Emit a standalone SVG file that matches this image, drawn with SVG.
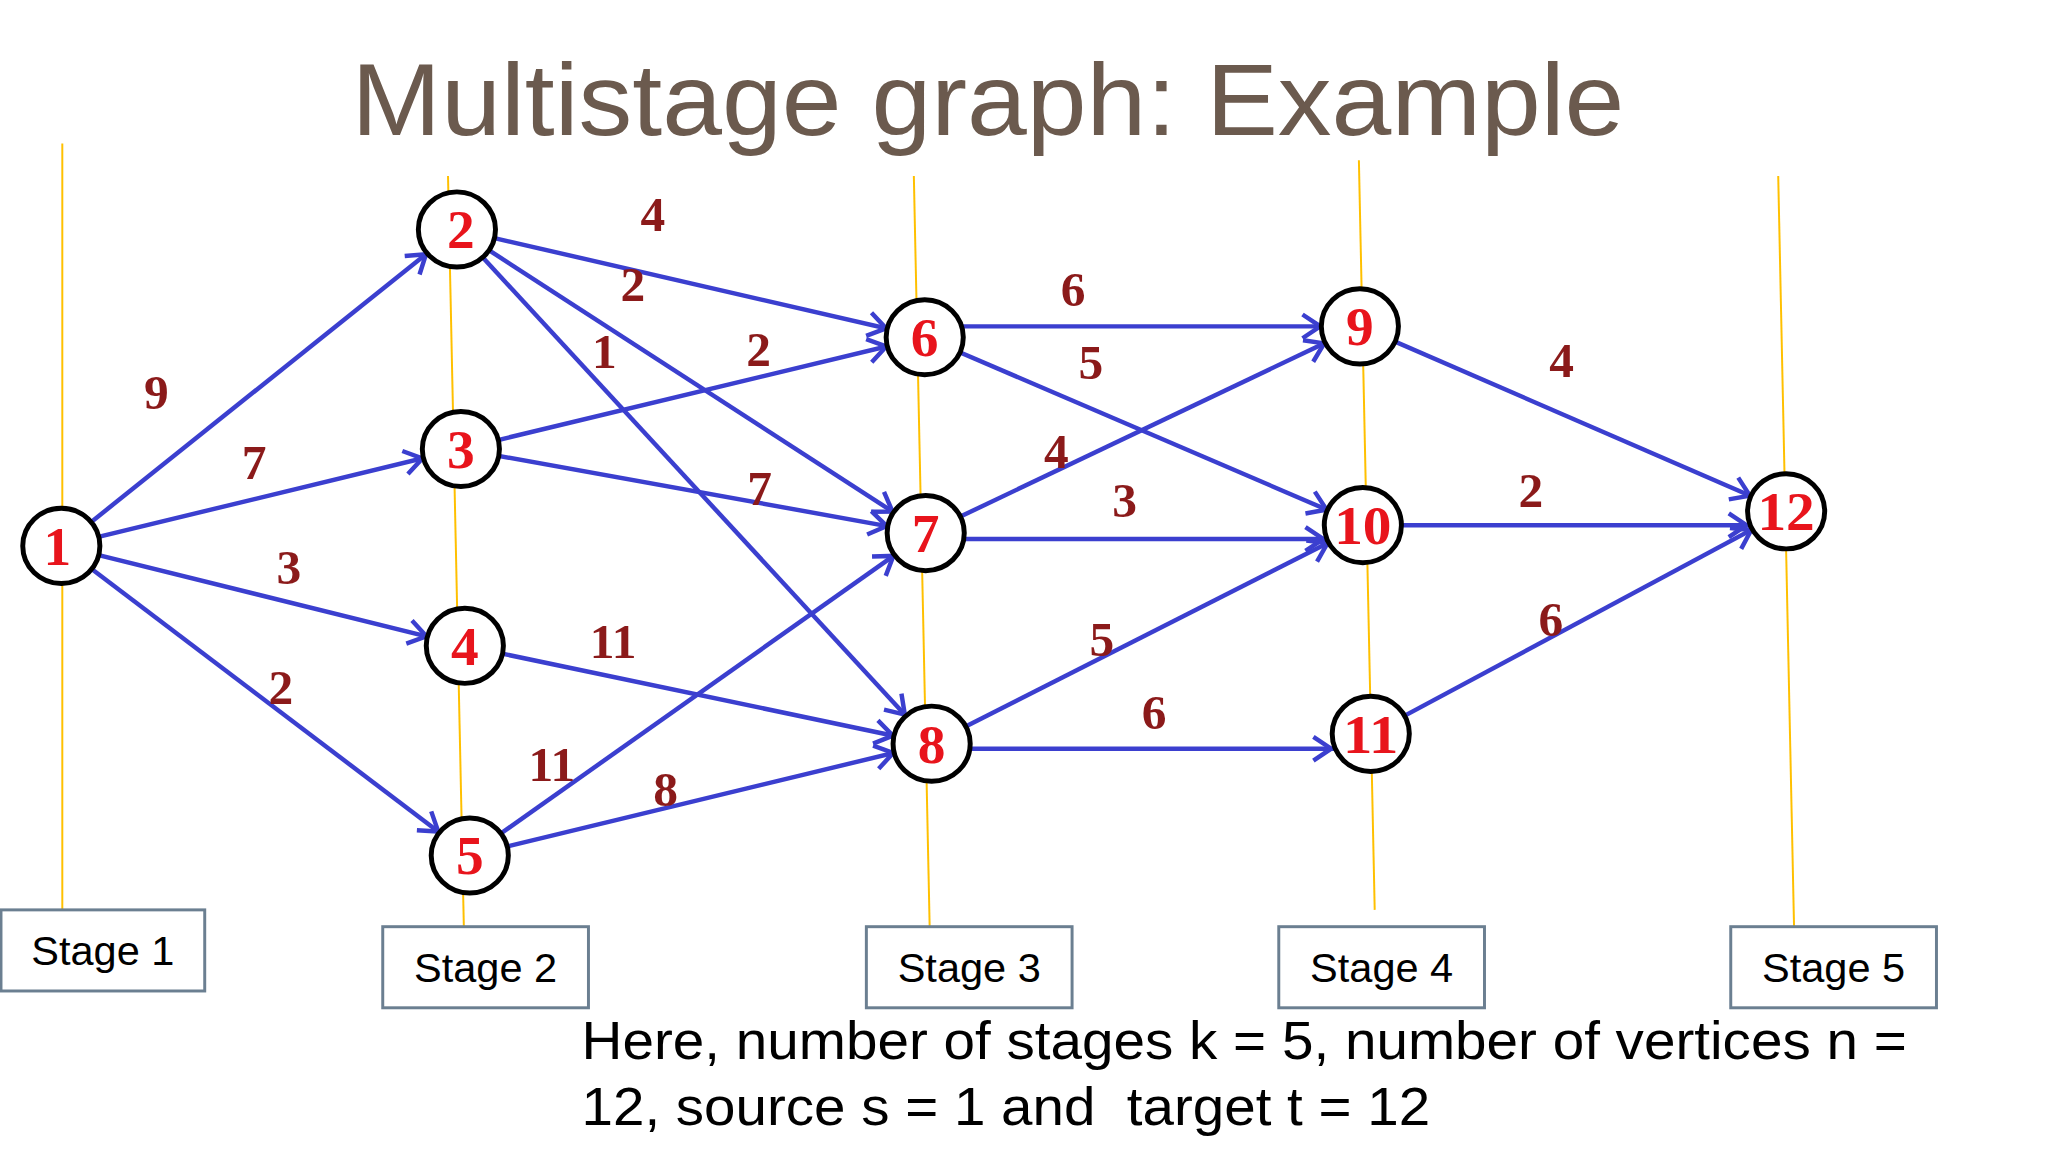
<svg xmlns="http://www.w3.org/2000/svg" width="2048" height="1152" viewBox="0 0 2048 1152">
<defs>
<marker id="ah" markerUnits="userSpaceOnUse" viewBox="0 -14 80 28" markerWidth="80" markerHeight="28" refX="58" refY="0" orient="auto" overflow="visible">
<path d="M0,-12 L18,0 L0,12" fill="none" stroke="#3b3fcf" stroke-width="4.5"/>
</marker>
</defs>
<style>
.stage{stroke:#ffc000;stroke-width:2;fill:none}
.box{fill:#fff;stroke:#6b7f91;stroke-width:3}
.bt{font-family:"Liberation Sans",sans-serif;font-size:42px;fill:#000;text-anchor:middle}
.e{stroke:#3b3fcf;stroke-width:4.5;fill:none;marker-end:url(#ah)}
.n{fill:#fff;stroke:#000;stroke-width:5}
.nt{font-family:"Liberation Serif",serif;font-weight:bold;font-size:56px;fill:#e8141c;text-anchor:middle}
.w{font-family:"Liberation Serif",serif;font-weight:bold;font-size:50px;fill:#8b1a1a;text-anchor:middle}
</style>
<rect width="2048" height="1152" fill="#fff"/>
<g transform="scale(0.989)">
<text x="999" y="136" font-family="Liberation Sans,sans-serif" font-size="104" fill="#6b5a4e" text-anchor="middle" textLength="1287" lengthAdjust="spacingAndGlyphs">Multistage graph: Example</text>
<g id="stages">
<line class="stage" x1="63" y1="145" x2="63" y2="920"/>
<line class="stage" x1="453" y1="178" x2="469" y2="937"/>
<line class="stage" x1="924" y1="178" x2="940" y2="937"/>
<line class="stage" x1="1374" y1="162" x2="1390" y2="920"/>
<line class="stage" x1="1798" y1="178" x2="1814" y2="937"/>
</g>
<g id="connectors">
<line class="e" x1="62" y1="552" x2="462" y2="232"/>
<line class="e" x1="62" y1="552" x2="466" y2="454"/>
<line class="e" x1="62" y1="552" x2="470" y2="653"/>
<line class="e" x1="62" y1="552" x2="475" y2="865"/>
<line class="e" x1="462" y1="232" x2="935" y2="341"/>
<line class="e" x1="462" y1="232" x2="936" y2="539"/>
<line class="e" x1="462" y1="232" x2="942" y2="752"/>
<line class="e" x1="466" y1="454" x2="935" y2="341"/>
<line class="e" x1="466" y1="454" x2="936" y2="539"/>
<line class="e" x1="470" y1="653" x2="942" y2="752"/>
<line class="e" x1="475" y1="865" x2="936" y2="539"/>
<line class="e" x1="475" y1="865" x2="942" y2="752"/>
<line class="e" x1="935" y1="330" x2="1375" y2="330"/>
<line class="e" x1="935" y1="341" x2="1378" y2="531"/>
<line class="e" x1="936" y1="539" x2="1375" y2="330"/>
<line class="e" x1="936" y1="545" x2="1378" y2="545"/>
<line class="e" x1="942" y1="752" x2="1378" y2="531"/>
<line class="e" x1="942" y1="757" x2="1386" y2="757"/>
<line class="e" x1="1375" y1="330" x2="1806" y2="517"/>
<line class="e" x1="1378" y1="531" x2="1806" y2="531"/>
<line class="e" x1="1386" y1="742" x2="1806" y2="517"/>
</g>
<g id="weights">
<text class="w" x="158" y="414">9</text>
<text class="w" x="257" y="484">7</text>
<text class="w" x="292" y="590">3</text>
<text class="w" x="284" y="712">2</text>
<text class="w" x="660" y="234">4</text>
<text class="w" x="640" y="304">2</text>
<text class="w" x="611" y="372">1</text>
<text class="w" x="767" y="370">2</text>
<text class="w" x="768" y="511">7</text>
<text class="w" x="620" y="665">11</text>
<text class="w" x="558" y="790">11</text>
<text class="w" x="673" y="815">8</text>
<text class="w" x="1085" y="309">6</text>
<text class="w" x="1103" y="383">5</text>
<text class="w" x="1068" y="473">4</text>
<text class="w" x="1137" y="523">3</text>
<text class="w" x="1114" y="663">5</text>
<text class="w" x="1167" y="737">6</text>
<text class="w" x="1579" y="381">4</text>
<text class="w" x="1548" y="513">2</text>
<text class="w" x="1568" y="643">6</text>
</g>
<g id="n1"><ellipse class="n" cx="62" cy="552" rx="39" ry="38"/><text class="nt" x="58" y="571">1</text></g>
<g id="n2"><ellipse class="n" cx="462" cy="232" rx="39" ry="38"/><text class="nt" x="466" y="251">2</text></g>
<g id="n3"><ellipse class="n" cx="466" cy="454" rx="39" ry="38"/><text class="nt" x="466" y="473">3</text></g>
<g id="n4"><ellipse class="n" cx="470" cy="653" rx="39" ry="38"/><text class="nt" x="470" y="672">4</text></g>
<g id="n5"><ellipse class="n" cx="475" cy="865" rx="39" ry="38"/><text class="nt" x="475" y="884">5</text></g>
<g id="n6"><ellipse class="n" cx="935" cy="341" rx="39" ry="38"/><text class="nt" x="935" y="360">6</text></g>
<g id="n7"><ellipse class="n" cx="936" cy="539" rx="39" ry="38"/><text class="nt" x="936" y="558">7</text></g>
<g id="n8"><ellipse class="n" cx="942" cy="752" rx="39" ry="38"/><text class="nt" x="942" y="771">8</text></g>
<g id="n9"><ellipse class="n" cx="1375" cy="330" rx="39" ry="38"/><text class="nt" x="1375" y="349">9</text></g>
<g id="n10"><ellipse class="n" cx="1378" cy="531" rx="39" ry="38"/><text class="nt" x="1378" y="550" textLength="58" lengthAdjust="spacingAndGlyphs">10</text></g>
<g id="n11"><ellipse class="n" cx="1386" cy="742" rx="39" ry="38"/><text class="nt" x="1386" y="761" textLength="56" lengthAdjust="spacingAndGlyphs">11</text></g>
<g id="n12"><ellipse class="n" cx="1806" cy="517" rx="39" ry="38"/><text class="nt" x="1806" y="536" textLength="58" lengthAdjust="spacingAndGlyphs">12</text></g>
<g id="stage-boxes">
<rect class="box" x="1" y="920" width="206" height="82"/><text class="bt" x="104" y="976">Stage 1</text>
<rect class="box" x="387" y="937" width="208" height="82"/><text class="bt" x="491" y="993">Stage 2</text>
<rect class="box" x="876" y="937" width="208" height="82"/><text class="bt" x="980" y="993">Stage 3</text>
<rect class="box" x="1293" y="937" width="208" height="82"/><text class="bt" x="1397" y="993">Stage 4</text>
<rect class="box" x="1750" y="937" width="208" height="82"/><text class="bt" x="1854" y="993">Stage 5</text>
</g>
<g id="caption" font-family="Liberation Sans,sans-serif" font-size="54" fill="#000">
<text x="588" y="1071" textLength="1340" lengthAdjust="spacingAndGlyphs">Here, number of stages k = 5, number of vertices n =</text>
<text x="588" y="1138" xml:space="preserve" textLength="858" lengthAdjust="spacingAndGlyphs">12, source s = 1 and  target t = 12</text>
</g>
</g>
</svg>
